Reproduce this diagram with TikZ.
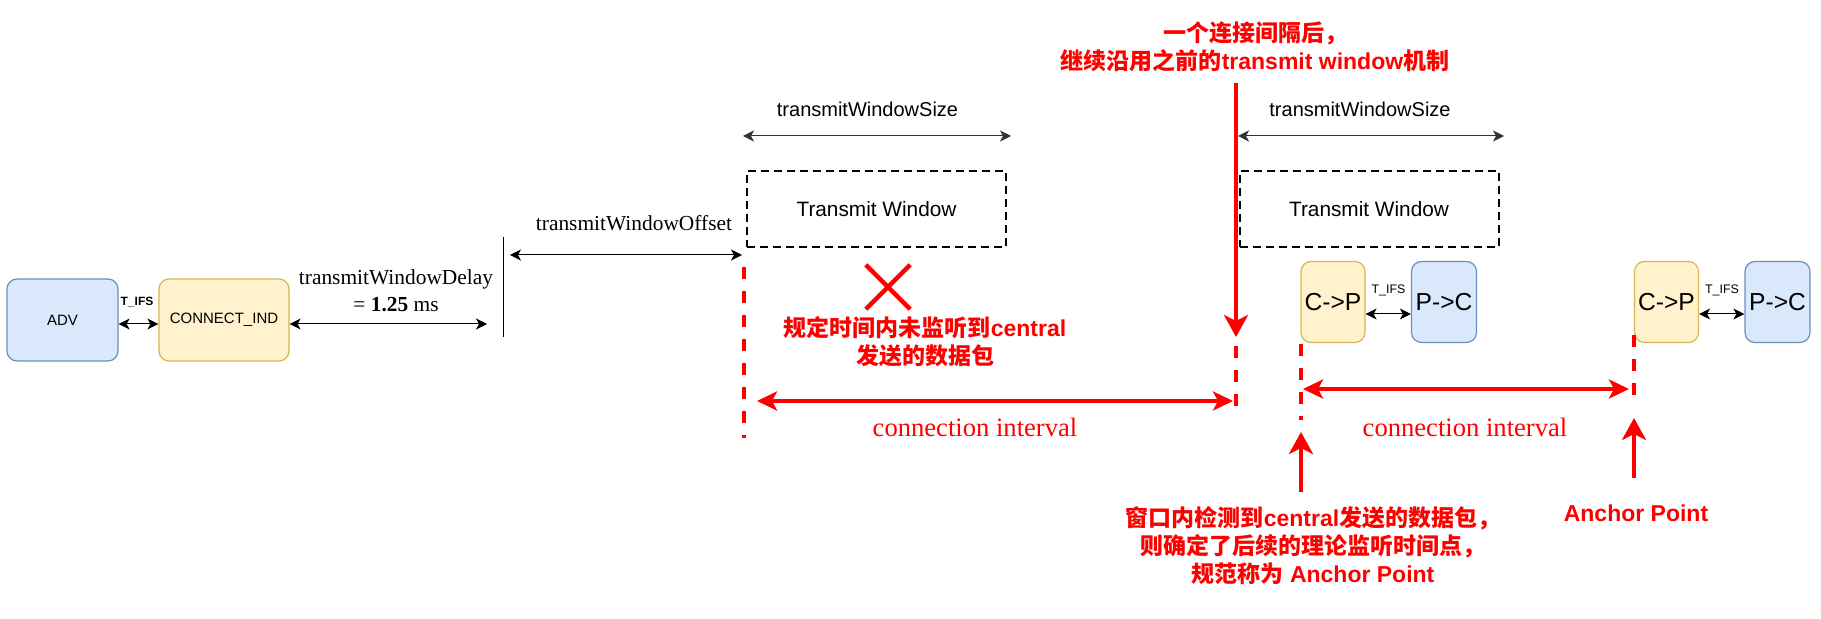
\documentclass[tikz,border=0pt]{standalone}
\usepackage{fontspec}
\setmainfont{Liberation Sans}
\newfontfamily\tnr{Liberation Serif}
\newfontfamily\cjk{Noto Sans CJK SC}
\usetikzlibrary{arrows.meta,shapes.misc}
\definecolor{bfill}{HTML}{DAE8FC}
\definecolor{bline}{HTML}{6C8EBF}
\definecolor{yfill}{HTML}{FFF2CC}
\definecolor{yline}{HTML}{D6B656}
\newcommand{\zh}[1]{{\cjk #1}}
\begin{document}
\begin{tikzpicture}[x=0.5pt, y=-0.5pt, line width=0.5pt,
  pkt/.style={draw, rounded corners=5pt, inner sep=0pt, line width=0.6pt, minimum height=40.5pt},
  central/.style={pkt, fill=yfill, draw=yline},
  periph/.style={pkt, fill=bfill, draw=bline},
  win/.style={draw, line width=1pt, dash pattern=on 4pt off 2.5pt, minimum width=129.5pt, minimum height=38pt, font=\fontsize{10.4}{12}\selectfont},
  dim/.style={{Stealth[length=5.5pt,width=5.5pt,inset=1.5pt]}-{Stealth[length=5.5pt,width=5.5pt,inset=1.5pt]}},
  rdash/.style={red, line width=1.7pt, dash pattern=on 6pt off 6pt},
  rdim/.style={red, line width=1.8pt, {Stealth[length=10pt,width=9.5pt,inset=2.5pt]}-{Stealth[length=10pt,width=9.5pt,inset=2.5pt]}},
  rarr/.style={red, line width=2pt, -{Stealth[length=11pt,width=12pt,inset=3pt]}},
  serif/.style={font=\tnr\fontsize{10.7}{13.5}\selectfont},
  note/.style={red, align=center, font=\bfseries\fontsize{11.5}{14}\selectfont}]
  \useasboundingbox (0,0) rectangle (1821,619);
  \node[periph, minimum width=55.5pt, minimum height=41pt, font=\fontsize{7.5}{9}\selectfont] (adv) at (62.5,320) {ADV};
  \node[central, minimum width=65pt, minimum height=41pt, font=\fontsize{7.5}{9}\selectfont] (conind) at (224,320) {CONNECT\_IND};
  \node[font=\bfseries\fontsize{6}{7}\selectfont] (tifs0) at (137,302) {T\_IFS};
  \draw[dim] ([yshift=-2pt]adv.east) -- ([yshift=-2pt]conind.west);
  \coordinate (delayend) at (487,324);
  \draw[dim] ([yshift=-2pt]conind.east) -- (delayend);
  \node[serif, align=center] (delay) at (396,290.5) {transmitWindowDelay\\= \textbf{1.25} ms};
  \coordinate (offtop) at (503,237);
  \coordinate (offbot) at (503,337);
  \draw (offtop) -- (offbot);
  \coordinate (offl) at (510,255);
  \coordinate (offr) at (742,255);
  \draw[dim] (offl) -- (offr);
  \node[serif] (offset) at (634,223) {transmitWindowOffset};
  \foreach \n/\xc/\xl/\xr in {1/876.5/743/1011, 2/1369/1238/1504}{
    \node[win] (win\n) at (\xc,209) {Transmit Window};
    \node[font=\fontsize{10}{12}\selectfont] (size\n) at (\xc-9,109) {transmitWindowSize};
    \coordinate (sizel\n) at (\xl,136);
    \coordinate (sizer\n) at (\xr,136);
    \draw[dim, black!80] (sizel\n) -- (sizer\n);
  }
  \foreach \n/\xc in {1/1333, 2/1666.5}{
    \node[central, minimum width=32pt, font=\fontsize{12.3}{14}\selectfont] (cp\n) at (\xc,302) {C->P};
    \node[periph, minimum width=32.5pt, font=\fontsize{12.3}{14}\selectfont] (pc\n) at (\xc+111,302) {P->C};
    \node[font=\fontsize{6.2}{7}\selectfont] (tifs\n) at (\xc+55.5,290) {T\_IFS};
    \draw[dim] ([yshift=-6pt]cp\n.east) -- ([yshift=-6pt]pc\n.west);
  }
  \foreach \n/\x/\ya/\yb in {1/744/267/438, 2/1236/346/417, 3/1301/344/420, 4/1634/335/405}{
    \coordinate (mk\n a) at (\x,\ya);
    \coordinate (mk\n b) at (\x,\yb);
    \draw[rdash] (mk\n a) -- (mk\n b);
  }
  \node[cross out, draw=red, line width=2.2pt, minimum width=20pt, minimum height=20pt, inner sep=0pt] (miss) at (888,287) {};
  \node[note] (missnote) at (925,342) {\zh{规定时间内未监听到}central\\\zh{发送的数据包}};
  \coordinate (ci1l) at (757,401);
  \coordinate (ci1r) at (1233,401);
  \draw[rdim] (ci1l) -- (ci1r);
  \node[red, font=\tnr\fontsize{13.3}{15}\selectfont] (ci1) at (975,427) {connection interval};
  \coordinate (ci2l) at (1303,389);
  \coordinate (ci2r) at (1629,389);
  \draw[rdim] (ci2l) -- (ci2r);
  \node[red, font=\tnr\fontsize{13.3}{15}\selectfont] (ci2) at (1465,427) {connection interval};
  \node[note] (nextnote) at (1255,46.5) {\zh{一个连接间隔后，}\\\zh{继续沿用之前的}transmit window\zh{机制}};
  \coordinate (nexttop) at (1236,83);
  \coordinate (nexttip) at (1236,337);
  \draw[rarr] (nexttop) -- (nexttip);
  \node[note] (anchornote) at (1313,546) {\zh{窗口内检测到}central\zh{发送的数据包，}\\\zh{则确定了后续的理论监听时间点，}\\\zh{规范称为} Anchor Point};
  \coordinate (anc1bot) at (1301,492);
  \coordinate (anc1tip) at (1301,432);
  \draw[rarr] (anc1bot) -- (anc1tip);
  \node[note] (anchor) at (1636,513) {Anchor Point};
  \coordinate (anc2bot) at (1634,478);
  \coordinate (anc2tip) at (1634,418);
  \draw[rarr] (anc2bot) -- (anc2tip);
\end{tikzpicture}
\end{document}
